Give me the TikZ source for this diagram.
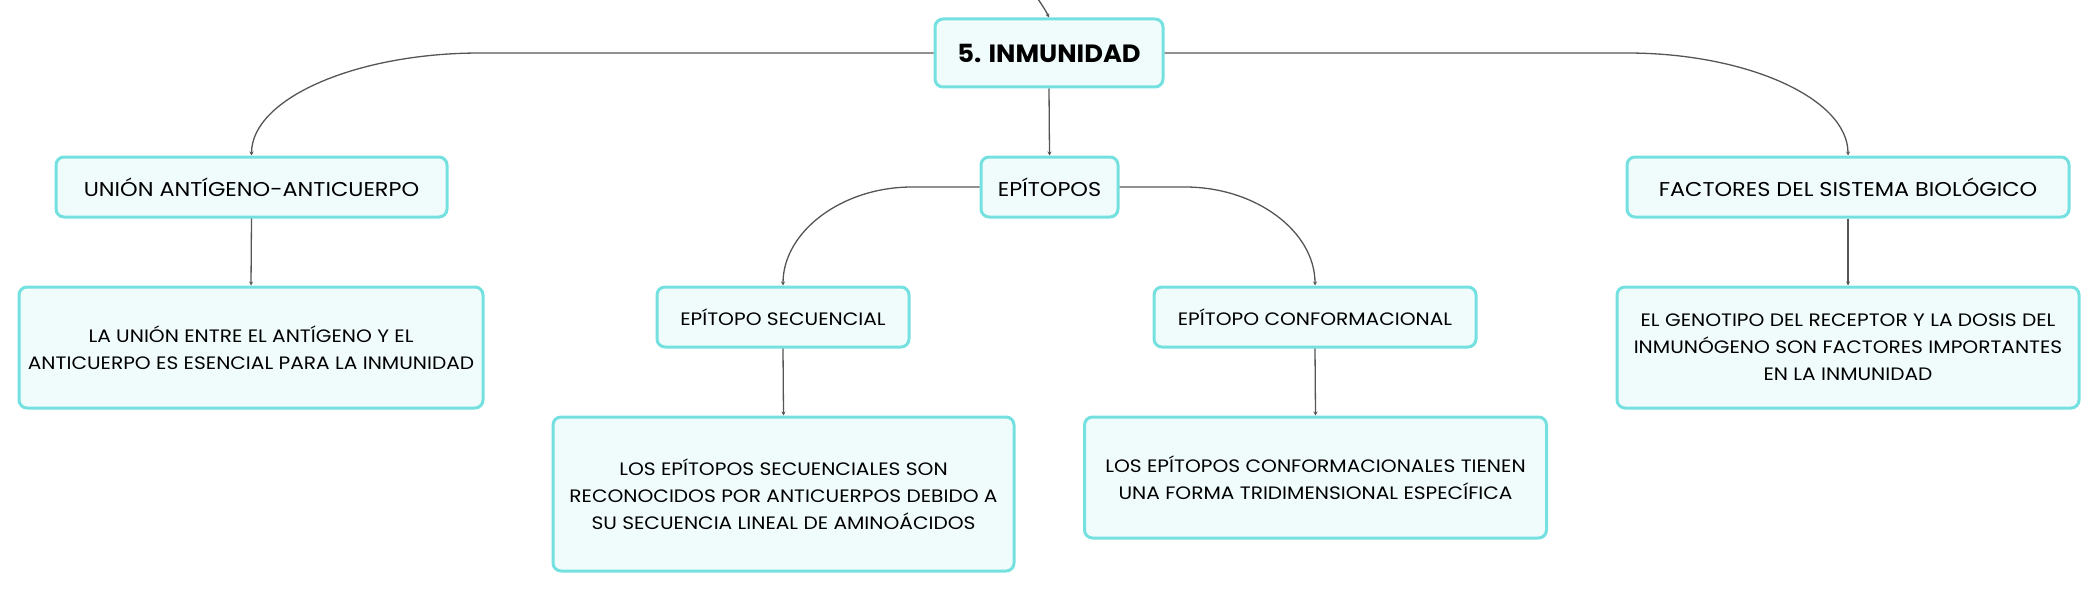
\documentclass[tikz,border=0pt]{standalone}
\usepackage{fontspec}
\setmainfont{Poppins}[FakeStretch=1.12]
\newfontfamily\headfont{Poppins}[FakeStretch=1.03]
\usetikzlibrary{calc,arrows.meta}
\definecolor{boxborder}{HTML}{74E0E0}
\definecolor{boxfill}{HTML}{F0FCFC}
\definecolor{linkgray}{HTML}{555555}
\newcommand{\topicheight}{60pt}
\newcommand{\leafwidth}{462pt}
\newcommand{\leafheight}{121pt}
\newcommand{\rooty}{53}
\newcommand{\levelone}{187}
\newcommand{\leveltwo}{317}
\newcommand{\leafy}{347.5}
\newcommand{\topicfont}{\fontsize{20}{24}\selectfont}
\newcommand{\subfont}{\fontsize{18}{27}\selectfont}

\begin{document}
\begin{tikzpicture}[x=1pt,y=-1pt]
\tikzstyle{topic}=[draw=boxborder,fill=boxfill,line width=3pt,rounded corners=8pt,align=center,inner sep=0pt,minimum height=\topicheight]
\tikzstyle{leaf}=[topic,minimum width=\leafwidth,minimum height=\leafheight,font=\subfont]
\tikzstyle{link}=[draw=linkgray,line width=1.3pt,-{Stealth[length=4pt,width=4pt]}]

\useasboundingbox (0,0) rectangle (2100,591);

\node(root) [topic, minimum width=228pt, minimum height=68pt, font=\headfont\fontsize{25}{30}\selectfont\bfseries] at (1049,\rooty) {5. INMUNIDAD};

\node(union) [topic, minimum width=391pt, font=\topicfont] at (251.5,\levelone) {UNIÓN ANTÍGENO-ANTICUERPO};
\node(epitopos) [topic, minimum width=137pt, font=\topicfont] at (1049.5,\levelone) {EPÍTOPOS};
\node(factores) [topic, minimum width=442pt, font=\topicfont] at (1848,\levelone) {FACTORES DEL SISTEMA BIOLÓGICO};

\node(unionleaf) [leaf, minimum width=464pt] at (251,\leafy) {LA UNIÓN ENTRE EL ANTÍGENO Y EL\\ANTICUERPO ES ESENCIAL PARA LA INMUNIDAD};
\node(factleaf) [leaf] at (1848,\leafy) {EL GENOTIPO DEL RECEPTOR Y LA DOSIS DEL\\INMUNÓGENO SON FACTORES IMPORTANTES\\EN LA INMUNIDAD};

\node(secuencial) [topic, minimum width=252pt, font=\subfont] at (783,\leveltwo) {EPÍTOPO SECUENCIAL};
\node(conformacional) [topic, minimum width=322pt, font=\subfont] at (1315,\leveltwo) {EPÍTOPO CONFORMACIONAL};

\node(secleaf) [leaf, minimum width=461pt, minimum height=154pt] at (783.5,494) {LOS EPÍTOPOS SECUENCIALES SON\\RECONOCIDOS POR ANTICUERPOS DEBIDO A\\SU SECUENCIA LINEAL DE AMINOÁCIDOS};
\node(confleaf) [leaf] at (1315.5,477.5) {LOS EPÍTOPOS CONFORMACIONALES TIENEN\\UNA FORMA TRIDIMENSIONAL ESPECÍFICA};

% incoming branch from the parent map
\coordinate (parent) at (1036,-4);
\draw[link] (parent) .. controls (1042,5) and (1046,11) .. (root.north);

\draw[link] (root.south) -- (epitopos.north);
\coordinate (unionbend) at (480,\rooty);
\draw[link] (root.west) -- (unionbend) .. controls ($(unionbend)+(-124,0)$) and ($(union.north)+(0,-57)$) .. (union.north);
\coordinate (factbend) at (1627,\rooty);
\draw[link] (root.east) -- (factbend) .. controls ($(factbend)+(120,0)$) and ($(factores.north)+(0,-57)$) .. (factores.north);

\coordinate (secbend) at (912,\levelone);
\draw[link] (epitopos.west) -- (secbend) .. controls ($(secbend)+(-70,0)$) and ($(secuencial.north)+(0,-54)$) .. (secuencial.north);
\coordinate (confbend) at (1185,\levelone);
\draw[link] (epitopos.east) -- (confbend) .. controls ($(confbend)+(71,0)$) and ($(conformacional.north)+(0,-54)$) .. (conformacional.north);

\draw[link] (union.south) -- (unionleaf.north);
\draw[link] (factores.south) -- (factleaf.north);
\draw[link] (secuencial.south) -- (secleaf.north);
\draw[link] (conformacional.south) -- (confleaf.north);

\end{tikzpicture}
\end{document}
